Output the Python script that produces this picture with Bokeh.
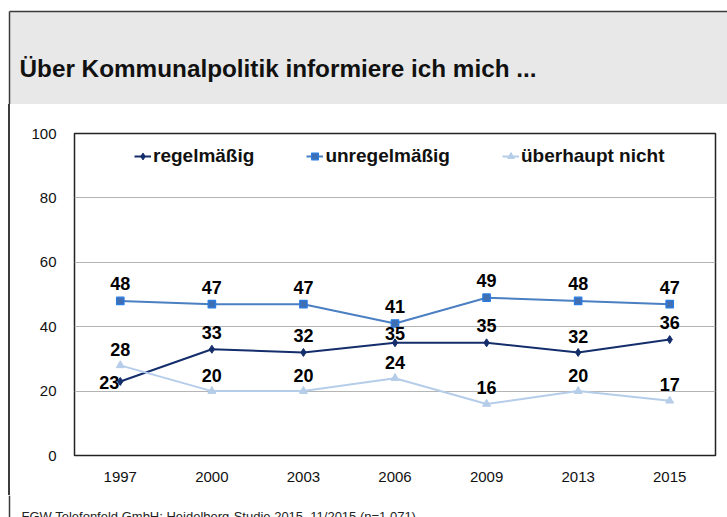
from bokeh.plotting import figure
from bokeh.layouts import column, row
from bokeh.models import (ColumnDataSource, Range1d, Legend, LegendItem,
                          FixedTicker, Div)
from bokeh.core.properties import value
from bokeh.embed import file_html
from bokeh.resources import INLINE

years = ["1997", "2000", "2003", "2006", "2009", "2013", "2015"]
regelmaessig = [23, 33, 32, 35, 35, 32, 36]
unregelmaessig = [48, 47, 47, 41, 49, 48, 47]
ueberhaupt_nicht = [28, 20, 20, 24, 16, 20, 17]
series_names = ["regelmäßig", "unregelmäßig", "überhaupt nicht"]
title_text = "Über Kommunalpolitik informiere ich mich ..."
source_text = "FGW Telefonfeld GmbH; Heidelberg-Studie 2015, 11/2015 (n=1.071)"
y_ticks = [0, 20, 40, 60, 80, 100]

FONT = "Liberation Sans"
W = 727
H_HEAD, H_MID, H_FOOT = 104, 391, 22
STRIP = 11
FRAME_COL = "#3c3c3c"


def blank(width, height):
    f = figure(width=width, height=height, x_range=Range1d(0, width),
               y_range=Range1d(height, 0), output_backend="svg",
               toolbar_location=None, min_border=0)
    f.title = None
    f.axis.visible = False
    f.grid.visible = False
    f.outline_line_color = None
    f.background_fill_color = "white"
    f.border_fill_color = "white"
    return f


# header band with title
head = blank(W, H_HEAD)
head.quad(left=[9], right=[W], top=[11], bottom=[H_HEAD],
          fill_color="#e8e8e8", line_color=None)
head.segment(x0=[9, 9], y0=[11, 11], x1=[W, 9], y1=[11, H_HEAD],
             line_color=FRAME_COL, line_width=1.5)
head.text(x=[19], y=[68], text=[title_text], text_font=value(FONT),
          text_font_style="bold", text_font_size="24.3px",
          text_baseline="middle", text_color="#111111")

# left frame strip (plain HTML box, so it is not aligned to the plot frame)
strip = Div(text="", width=STRIP, height=H_MID, margin=0,
            styles={"background": "linear-gradient(to right, #ffffff 8.25px, "
                                  "#3c3c3c 8.25px, #3c3c3c 9.75px, #ffffff 9.75px)"})

# footer
foot = blank(W, H_FOOT)
foot.segment(x0=[9], y0=[0], x1=[9], y1=[H_FOOT],
             line_color=FRAME_COL, line_width=1.5)
foot.text(x=[21], y=[21], text=[source_text], text_font=value(FONT),
          text_font_size="13px", text_baseline="middle", text_color="#222222")

# main chart
p = figure(width=W - STRIP, height=H_MID, x_range=years,
           y_range=Range1d(0, 100), output_backend="svg",
           toolbar_location=None, min_border_left=74 - STRIP,
           min_border_right=12, min_border_top=29, min_border_bottom=40)
p.title = None
p.background_fill_color = "white"
p.border_fill_color = "white"
p.outline_line_color = "#222222"
p.outline_line_width = 1.5

p.xgrid.grid_line_color = None
p.ygrid.grid_line_color = "#b4b4b4"
p.ygrid.grid_line_width = 1.2
p.yaxis.ticker = FixedTicker(ticks=y_ticks)
for ax in (p.xaxis[0], p.yaxis[0]):
    ax.axis_line_color = None
    ax.major_tick_line_color = None
    ax.minor_tick_line_color = None
    ax.major_label_text_font = FONT
    ax.major_label_text_font_size = "15px"
    ax.major_label_text_color = "#111111"
p.yaxis.major_label_standoff = 12
p.xaxis.major_label_standoff = 10

src0 = ColumnDataSource(dict(x=years, y=regelmaessig,
                             t=[str(v) for v in regelmaessig]))
l0 = p.line("x", "y", source=src0, line_color="#142d6b", line_width=2)
m0 = p.scatter("x", "y", source=src0, marker="diamond", size=8,
               fill_color="#142d6b", line_color="#142d6b")

src1 = ColumnDataSource(dict(x=years, y=unregelmaessig,
                             t=[str(v) for v in unregelmaessig]))
l1 = p.line("x", "y", source=src1, line_color="#4a7fc2", line_width=2)
m1 = p.scatter("x", "y", source=src1, marker="square", size=7.5,
               fill_color="#3f6fb3", line_color="#2b7de6", line_width=1.2)

src2 = ColumnDataSource(dict(x=years, y=ueberhaupt_nicht,
                             t=[str(v) for v in ueberhaupt_nicht]))
l2 = p.line("x", "y", source=src2, line_color="#b5cde9", line_width=2)
m2 = p.scatter("x", "y", source=src2, marker="triangle", size=8,
               fill_color="#b5cde9", line_color="#b5cde9")

lab_kw = dict(text="t", text_font=value(FONT), text_font_style="bold",
              text_font_size="18px", text_color="#000000",
              text_baseline="middle")
src0a = ColumnDataSource(dict(x=years[:1], y=regelmaessig[:1],
                              t=[str(v) for v in regelmaessig[:1]]))
p.text("x", "y", source=src0a, text_align="right", x_offset=-1, y_offset=1,
       **lab_kw)
src0b = ColumnDataSource(dict(x=years[1:], y=regelmaessig[1:],
                              t=[str(v) for v in regelmaessig[1:]],
                              off=[-17, -17, -9, -17, -16, -17]))
p.text("x", "y", source=src0b, text_align="center", y_offset="off", **lab_kw)
p.text("x", "y", source=src1, text_align="center", y_offset=-17, **lab_kw)
p.text("x", "y", source=src2, text_align="center", y_offset=-16, **lab_kw)

legend = Legend(items=[LegendItem(label=series_names[0], renderers=[l0, m0]),
                       LegendItem(label=series_names[1], renderers=[l1, m1]),
                       LegendItem(label=series_names[2], renderers=[l2, m2])],
                orientation="horizontal", location=(60, 288),
                padding=0, margin=0, spacing=52, label_standoff=2,
                glyph_width=17, glyph_height=20, label_height=20,
                border_line_color=None, background_fill_alpha=0,
                label_text_font=FONT, label_text_font_style="bold",
                label_text_font_size="19px", label_text_color="#111111")
p.add_layout(legend, "center")

layout = column(head, row(strip, p, spacing=0), foot, spacing=0)
open("out.html", "w").write(file_html(layout, INLINE))
